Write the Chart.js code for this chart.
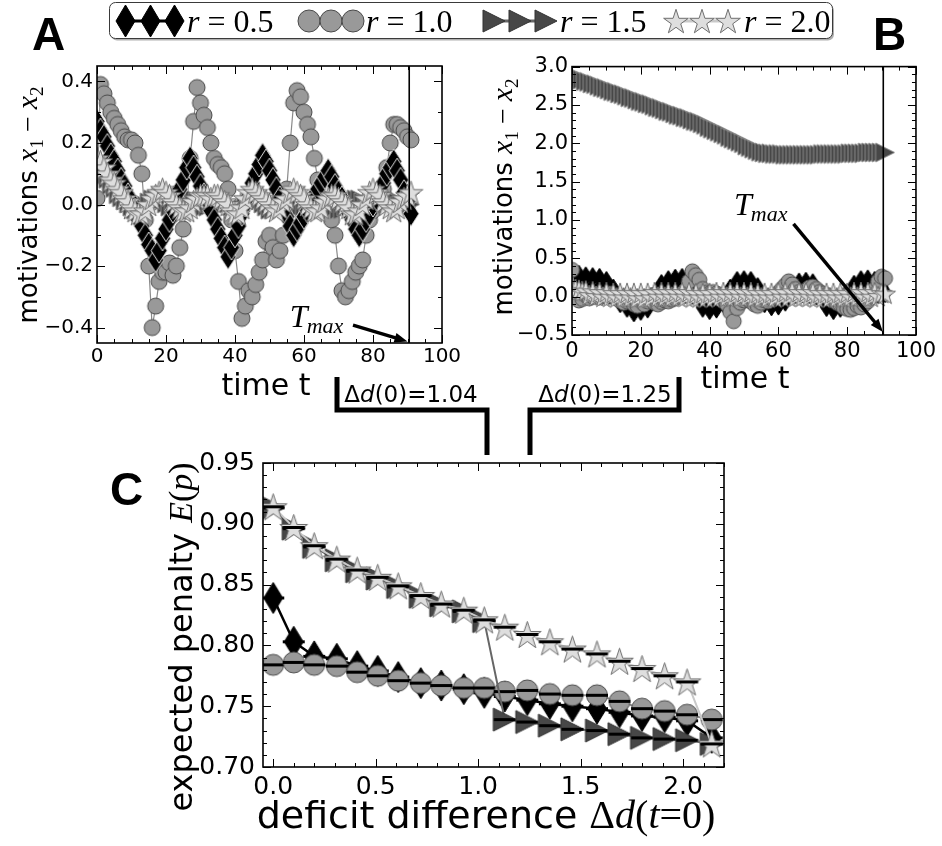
<!DOCTYPE html>
<html>
<head>
<meta charset="utf-8">
<script src="https://cdn.jsdelivr.net/npm/chart.js@4.4.1/dist/chart.umd.min.js"></script>
<style>
  body { margin: 0; background: #fff; width: 942px; height: 846px; position: relative; overflow: hidden; }
  canvas { position: absolute; }
</style>
</head>
<body>
<canvas id="chartA" width="470" height="360" style="left:0px;top:50px"></canvas>
<canvas id="chartB" width="460" height="360" style="left:480px;top:50px"></canvas>
<canvas id="chartC" width="600" height="406" style="left:150px;top:440px"></canvas>
<canvas id="deco" width="942" height="846" style="left:0;top:0;pointer-events:none"></canvas>
<script>
// ---- data ----
const rValues = ["0.5", "1.0", "1.5", "2.0"];

const timeSteps = [0,1,2,3,4,5,6,7,8,9,10,11,12,13,14,15,16,17,18,19,20,21,22,23,24,25,26,27,28,29,
  30,31,32,33,34,35,36,37,38,39,40,41,42,43,44,45,46,47,48,49,50,51,52,53,54,55,56,57,58,59,
  60,61,62,63,64,65,66,67,68,69,70,71,72,73,74,75,76,77,78,79,80,81,82,83,84,85,86,87,88,89,90,91];

// panel A, delta d(0) = 1.04
const motivA_r05 = [0.27,0.24,0.22,0.19,0.16,0.14,0.11,0.08,0.06,0.03,0.01,-0.02,-0.05,-0.07,-0.10,-0.13,-0.15,-0.18,
  -0.15,-0.11,-0.08,-0.05,-0.02,0.02,0.05,0.08,0.12,0.15,
  0.12,0.09,0.06,0.03,0.01,-0.02,-0.05,-0.08,-0.11,-0.14,-0.17,
  -0.14,-0.10,-0.07,-0.03,0.00,0.03,0.07,0.10,0.13,0.16,
  0.14,0.11,0.08,0.05,0.02,-0.01,-0.04,-0.07,-0.10,
  -0.08,-0.06,-0.04,-0.02,0.01,0.03,0.05,0.07,0.09,0.11,
  0.09,0.06,0.04,0.02,-0.01,-0.03,-0.05,-0.08,-0.10,
  -0.08,-0.05,-0.03,0.00,0.02,0.05,0.07,0.10,0.12,0.14,
  0.11,0.08,0.04,0.01,-0.03];
const motivA_r10 = [0.02,0.39,0.36,0.33,0.30,0.28,0.26,0.24,0.22,0.21,
  0.21,0.20,0.16,0.10,-0.05,-0.20,-0.40,-0.33,-0.25,-0.22,
  -0.22,-0.19,-0.23,-0.20,-0.14,-0.08,-0.02,0.15,0.27,0.38,
  0.33,0.29,0.25,0.20,0.15,0.13,0.12,0.10,0.05,-0.05,
  -0.15,-0.25,-0.37,-0.33,-0.28,-0.30,-0.26,-0.22,-0.18,-0.12,
  -0.10,-0.14,-0.18,-0.15,-0.10,0.05,0.20,0.33,0.37,0.35,
  0.30,0.26,0.22,0.15,0.08,0.02,-0.02,-0.03,-0.05,-0.10,
  -0.20,-0.28,-0.30,-0.28,-0.25,-0.22,-0.20,-0.18,-0.10,-0.05,
  -0.02,0.00,0.03,0.05,0.12,0.20,0.26,0.26,0.25,0.24,
  0.22,0.21];
const motivA_r15 = [0.12,0.11,0.09,0.08,0.06,0.05,0.03,0.02,0.01,0.00,-0.01,-0.02,-0.02,-0.01,0.00,0.01,0.02,0.02,0.02,0.01,
  0.00,-0.01,-0.02,-0.02,-0.01,0.00,0.01,0.02,0.02,0.01,0.00,-0.01,-0.01,0.00,0.01,0.02,0.02,0.01,0.00,-0.01,
  -0.02,-0.02,-0.01,0.00,0.01,0.02,0.02,0.01,0.00,-0.01,-0.02,-0.02,-0.01,0.00,0.01,0.02,0.02,0.01,0.00,-0.01,
  -0.02,-0.02,-0.01,0.00,0.01,0.02,0.02,0.01,0.00,-0.01,-0.02,-0.02,-0.01,0.00,0.01,0.02,0.02,0.01,0.00,-0.01,
  -0.02,-0.02,-0.01,0.00,0.01,0.02,0.02,0.01,0.00,-0.01,-0.01,0.00];
const motivA_r20 = [0.15,0.14,0.12,0.10,0.08,0.07,0.05,0.04,0.02,0.01,-0.01,-0.02,-0.03,-0.03,-0.02,0.00,0.02,0.03,0.04,0.05,
  0.04,0.03,0.01,0.00,-0.01,-0.02,-0.02,-0.01,0.01,0.02,0.03,0.03,0.03,0.02,0.03,0.03,0.02,0.01,0.00,-0.02,
  -0.03,-0.03,-0.01,0.02,0.04,0.05,0.04,0.03,0.02,0.01,0.00,-0.01,-0.02,-0.01,0.01,0.02,0.04,0.05,0.04,0.03,
  0.02,0.00,-0.01,-0.02,-0.02,-0.01,0.01,0.02,0.03,0.03,0.02,0.01,0.00,-0.01,-0.03,-0.03,-0.02,0.00,0.02,0.04,
  0.05,0.04,0.03,0.01,0.00,-0.01,-0.02,-0.01,0.01,0.02,0.03,0.04];

// panel B, delta d(0) = 1.25
const motivB_r05 = [0.27,0.08,0.28,0.07,0.26,0.06,0.25,0.05,0.24,0.04,0.20,0.03,0.10,0.00,-0.08,-0.02,-0.14,-0.03,-0.20,-0.04,
  -0.18,-0.03,-0.15,-0.01,0.02,0.03,0.16,0.04,0.21,0.05,0.23,0.05,0.24,0.04,0.20,0.03,0.05,-0.02,-0.14,-0.03,
  -0.17,-0.03,-0.15,-0.02,-0.08,0.02,0.10,0.04,0.20,0.05,0.21,0.04,0.20,0.03,0.12,0.00,-0.08,-0.02,-0.12,-0.03,
  -0.11,-0.02,-0.06,0.02,0.08,0.04,0.18,0.05,0.19,0.04,0.17,0.02,0.02,-0.02,-0.13,-0.03,-0.17,-0.03,-0.14,-0.01,
  0.03,0.04,0.15,0.05,0.21,0.05,0.22,0.05,0.20,0.04,0.12,0.05];
const motivB_r10 = [0.35,0.05,-0.05,-0.03,0.02,-0.02,0.00,0.03,-0.01,0.01,0.02,0.04,0.00,-0.02,-0.05,-0.08,-0.06,-0.04,-0.10,-0.12,
  -0.05,-0.10,-0.06,-0.04,-0.08,-0.10,-0.07,-0.05,-0.06,-0.04,-0.02,0.00,0.02,0.08,0.20,0.33,0.28,0.22,0.10,0.05,
  0.04,0.06,0.04,0.02,-0.02,-0.10,-0.20,-0.32,-0.15,-0.08,-0.05,-0.03,-0.06,-0.10,-0.12,-0.08,-0.05,-0.06,-0.02,0.00,
  0.05,0.10,0.15,0.20,0.16,0.10,0.06,0.04,0.08,0.12,0.13,0.10,0.06,0.04,0.02,0.00,-0.04,-0.08,-0.10,-0.14,
  -0.16,-0.17,-0.15,-0.12,-0.14,-0.10,-0.06,0.00,0.10,0.20,0.26,0.24];
const motivB_r15 = [2.88,2.86,2.85,2.83,2.81,2.80,2.78,2.77,2.75,2.73,2.72,2.70,2.68,2.67,2.65,2.64,2.62,2.60,2.59,2.57,
  2.55,2.54,2.52,2.51,2.49,2.47,2.46,2.44,2.42,2.41,2.39,2.37,2.36,2.34,2.33,2.31,2.29,2.28,2.26,2.24,
  2.21,2.19,2.17,2.15,2.13,2.11,2.08,2.06,2.04,2.02,2.00,1.97,1.95,1.93,1.91,1.89,1.88,1.87,1.87,1.86,
  1.86,1.86,1.85,1.85,1.85,1.85,1.85,1.85,1.85,1.85,1.85,1.85,1.85,1.86,1.86,1.86,1.86,1.86,1.86,1.86,
  1.86,1.87,1.87,1.87,1.87,1.87,1.88,1.88,1.88,1.88,1.88,1.88];
const motivB_r20 = [0.12,0.10,0.09,0.07,0.08,0.02,0.07,0.01,0.06,0.00,0.06,0.00,0.05,-0.01,0.05,-0.01,0.05,-0.01,0.05,-0.02,
  0.05,-0.02,0.05,-0.01,0.06,0.00,0.06,0.00,0.06,0.00,0.06,0.00,0.06,0.00,0.06,-0.01,0.05,-0.01,0.05,-0.01,
  0.05,-0.01,0.06,0.00,0.06,0.00,0.06,0.00,0.06,0.00,0.06,0.00,0.06,-0.01,0.05,-0.01,0.05,-0.01,0.05,-0.01,
  0.06,0.00,0.06,0.00,0.07,0.00,0.06,0.00,0.06,0.00,0.06,-0.01,0.05,-0.01,0.05,-0.01,0.05,-0.01,0.05,-0.01,
  0.05,0.00,0.06,0.00,0.06,0.00,0.06,0.00,0.06,0.01,0.05,0.04];

// panel C
const deficitDiff = [0.00,0.10,0.20,0.31,0.41,0.51,0.61,0.72,0.82,0.93,1.03,1.13,1.24,1.35,1.46,1.58,1.69,1.80,1.91,2.02,2.14];
const penalty_r05 = [0.839,0.803,0.791,0.789,0.783,0.779,0.774,0.769,0.767,0.764,0.761,0.758,0.755,0.752,0.750,0.748,0.745,0.742,0.741,0.738,0.724];
const penalty_r10 = [0.784,0.786,0.784,0.783,0.778,0.775,0.771,0.769,0.767,0.765,0.765,0.762,0.763,0.760,0.759,0.759,0.754,0.748,0.746,0.743,0.739];
const penalty_r15 = [0.913,0.896,0.881,0.870,0.861,0.855,0.848,0.840,0.833,0.828,0.820,0.739,0.737,0.734,0.731,0.730,0.727,0.724,0.723,0.722,0.719];
const penalty_r20 = [0.914,0.897,0.882,0.871,0.862,0.856,0.849,0.841,0.834,0.829,0.821,0.815,0.809,0.803,0.797,0.793,0.787,0.781,0.775,0.770,0.719];

const ticksA_x = [0, 20, 40, 60, 80, 100];
const ticksA_y = [-0.4, -0.2, 0.0, 0.2, 0.4];
const ticksB_y = [-0.5, 0.0, 0.5, 1.0, 1.5, 2.0, 2.5, 3.0];
const ticksC_x = [0.0, 0.5, 1.0, 1.5, 2.0];
const ticksC_y = [0.70, 0.75, 0.80, 0.85, 0.90, 0.95];
const tMax = 90.5;
const bracketValues = [1.04, 1.25];

// ---- markers ----
function marker(shape, o) {
  const w = o.w, h = o.h || o.w, lw = o.lw || 1;
  const c = document.createElement("canvas");
  c.width = Math.ceil(Math.max(w, o.bar || 0) + 2 * lw + 4);
  c.height = Math.ceil(h + 2 * lw + 4);
  const g = c.getContext("2d");
  const cx = c.width / 2, cy = c.height / 2;
  g.beginPath();
  if (shape === "circle") g.arc(cx, cy, w / 2, 0, Math.PI * 2);
  else if (shape === "diamond") {
    g.moveTo(cx, cy - h / 2); g.lineTo(cx + w / 2, cy); g.lineTo(cx, cy + h / 2); g.lineTo(cx - w / 2, cy); g.closePath();
  } else if (shape === "tri") {
    g.moveTo(cx + w / 2, cy); g.lineTo(cx - w / 2, cy - h / 2); g.lineTo(cx - w / 2, cy + h / 2); g.closePath();
  } else if (shape === "star") {
    for (let k = 0; k < 10; k++) {
      const r = k % 2 ? w / 2 * 0.382 : w / 2;
      const a = -Math.PI / 2 + k * Math.PI / 5;
      g.lineTo(cx + r * Math.cos(a), cy + r * Math.sin(a) + w * 0.05);
    }
    g.closePath();
  }
  g.fillStyle = o.fill; g.fill();
  g.lineWidth = lw; g.strokeStyle = o.edge; g.lineJoin = "miter"; g.stroke();
  if (o.bar) { g.fillStyle = "#000"; g.fillRect(cx - o.bar / 2, cy - 1.5, o.bar, 3); }
  return c;
}

const FILL = { d: "#000", c: "#999", t: "#474747", s: "#dedede" };
const EDGE = { d: "#000", c: "#4a4a4a", t: "#333", s: "#6e6e6e" };
const LINE = { d: "#000", c: "#8a8a8a", t: "#666", s: "#c9c9c9" };

const mkA = {
  d: marker("diamond", { w: 16, h: 25, fill: FILL.d, edge: "#e0e0e0", lw: 1 }),
  c: marker("circle", { w: 16, fill: FILL.c, edge: EDGE.c }),
  t: marker("tri", { w: 17, fill: FILL.t, edge: "#8a8a8a" }),
  s: marker("star", { w: 25, fill: FILL.s, edge: EDGE.s })
};
const mkB = {
  d: marker("diamond", { w: 13, h: 20, fill: FILL.d, edge: "#000", lw: 1 }),
  c: marker("circle", { w: 15, fill: FILL.c, edge: EDGE.c }),
  t: marker("tri", { w: 19, fill: FILL.t, edge: "#8c8c8c" }),
  s: marker("star", { w: 22, fill: FILL.s, edge: EDGE.s })
};
const mkC = {
  d: marker("diamond", { w: 19, h: 31, fill: FILL.d, edge: EDGE.d, bar: 22 }),
  c: marker("circle", { w: 21, fill: FILL.c, edge: EDGE.c, bar: 22 }),
  t: marker("tri", { w: 23, fill: FILL.t, edge: EDGE.t, bar: 22 }),
  s: marker("star", { w: 29, fill: FILL.s, edge: EDGE.s, bar: 22 })
};

function series(xs, ys, img, color, lw, order) {
  return {
    data: xs.map((x, i) => ({ x: x, y: ys[i] })),
    pointStyle: img, pointRadius: 6, pointHoverRadius: 6,
    showLine: true, borderColor: color, borderWidth: lw, order: order
  };
}

const minus = v => (v < 0 ? "\u2212" : "") + Math.abs(v);
function fmt(d) { return v => (v < 0 ? "\u2212" : "") + Math.abs(v).toFixed(d); }

function axis(min, max, ticks, cb, size, pad, w, h) {
  return {
    type: "linear", min: min, max: max,
    grid: { display: false, drawTicks: false }, border: { display: false },
    ticks: { font: { size: size, family: "DejaVu Sans" }, color: "#000", padding: pad, callback: cb, autoSkip: false, maxRotation: 0 },
    afterBuildTicks: s => { s.ticks = ticks.map(v => ({ value: v })); },
    afterFit: s => { if (w != null) s.width = w; if (h != null) s.height = h; }
  };
}

// frame with inward ticks on all four sides, T_max line and arrow
const framePlugin = {
  id: "frame",
  afterDatasetsDraw(chart, args, o) {
    const { ctx, chartArea: a, scales: { x, y } } = chart;
    ctx.save();
    ctx.strokeStyle = "#000";
    if (o.tmax != null) {
      const px = x.getPixelForValue(o.tmax);
      ctx.lineWidth = 1.6;
      ctx.beginPath(); ctx.moveTo(px, a.top); ctx.lineTo(px, a.bottom); ctx.stroke();
    }
    ctx.lineWidth = 1;
    const tk = (vals, len, horiz) => {
      vals.forEach(v => {
        ctx.beginPath();
        if (horiz) {
          const p = Math.round(x.getPixelForValue(v)) + 0.5;
          ctx.moveTo(p, a.bottom); ctx.lineTo(p, a.bottom - len);
          ctx.moveTo(p, a.top); ctx.lineTo(p, a.top + len);
        } else {
          const p = Math.round(y.getPixelForValue(v)) + 0.5;
          ctx.moveTo(a.left, p); ctx.lineTo(a.left + len, p);
          ctx.moveTo(a.right, p); ctx.lineTo(a.right - len, p);
        }
        ctx.stroke();
      });
    };
    const steps = (lo, hi, st) => { const r = []; for (let k = Math.ceil(lo / st - 1e-6); k * st <= hi + 1e-9; k++) r.push(k * st); return r; };
    tk(steps(x.min, x.max, o.minX), 4, true);
    tk(steps(y.min, y.max, o.minY), 4, false);
    tk(o.majX, 8, true);
    tk(o.majY, 8, false);
    ctx.lineWidth = 1.6;
    ctx.strokeRect(a.left, a.top, a.right - a.left, a.bottom - a.top);
    if (o.label) {
      const L = o.label;
      ctx.fillStyle = "#000";
      const tx = x.getPixelForValue(L.tx), ty = y.getPixelForValue(L.ty);
      ctx.font = 'italic 32px "Liberation Serif"';
      ctx.textBaseline = "alphabetic";
      ctx.fillText("T", tx, ty);
      const tw = ctx.measureText("T").width;
      ctx.font = 'italic 22px "Liberation Serif"';
      ctx.fillText("max", tx + tw - 1, ty + 6);
      const x0 = x.getPixelForValue(L.ax0), y0 = y.getPixelForValue(L.ay0);
      const x1 = x.getPixelForValue(L.ax1), y1 = y.getPixelForValue(L.ay1);
      const ang = Math.atan2(y1 - y0, x1 - x0);
      ctx.lineWidth = 3.5;
      ctx.beginPath(); ctx.moveTo(x0, y0);
      ctx.lineTo(x1 - 9 * Math.cos(ang), y1 - 9 * Math.sin(ang)); ctx.stroke();
      ctx.beginPath();
      ctx.moveTo(x1, y1);
      ctx.lineTo(x1 - 13 * Math.cos(ang) + 5 * Math.sin(ang), y1 - 13 * Math.sin(ang) - 5 * Math.cos(ang));
      ctx.lineTo(x1 - 13 * Math.cos(ang) - 5 * Math.sin(ang), y1 - 13 * Math.sin(ang) + 5 * Math.cos(ang));
      ctx.closePath(); ctx.fill();
    }
    ctx.restore();
  }
};

function makeChart(id, datasets, scales, padding, frame) {
  return new Chart(document.getElementById(id), {
    type: "scatter",
    data: { datasets: datasets },
    options: {
      responsive: false, animation: false, events: [],
      layout: { padding: padding },
      scales: scales,
      plugins: { legend: { display: false }, tooltip: { enabled: false }, frame: frame }
    },
    plugins: [framePlugin]
  });
}

makeChart("chartA", [
  series(timeSteps, motivA_r20, mkA.s, LINE.s, 1.2, 0),
  series(timeSteps, motivA_r05, mkA.d, LINE.d, 1.2, 1),
  series(timeSteps, motivA_r15, mkA.t, LINE.t, 1.2, 2),
  series(timeSteps, motivA_r10, mkA.c, LINE.c, 1.2, 3)
], {
  x: axis(0, 100, ticksA_x, v => minus(v), 20, 2, null, 67),
  y: axis(-0.45, 0.45, ticksA_y, fmt(1), 20, 4, 97, null)
}, { top: 14, right: 28, left: 0, bottom: 0 }, {
  tmax: tMax, minX: 5, minY: 0.1, majX: ticksA_x, majY: ticksA_y,
  label: { tx: 55.9, ty: -0.399, ax0: 74.2, ay0: -0.392, ax1: 90.0, ay1: -0.445 }
});

makeChart("chartB", [
  series(timeSteps, motivB_r20, mkB.s, LINE.s, 1.2, 0),
  series(timeSteps, motivB_r15, mkB.t, LINE.t, 1.2, 1),
  series(timeSteps, motivB_r10, mkB.c, LINE.c, 1.2, 2),
  series(timeSteps, motivB_r05, mkB.d, LINE.d, 1.2, 3)
], {
  x: axis(0, 100, ticksA_x, v => minus(v), 21, 4, null, 75),
  y: axis(-0.5, 3.0, ticksB_y, fmt(1), 21, 4, 92, null)
}, { top: 15, right: 22, left: 0, bottom: 0 }, {
  tmax: tMax, minX: 5, minY: 0.1, majX: ticksA_x, majY: ticksB_y,
  label: { tx: 47.1, ty: 1.065, ax0: 64.4, ay0: 0.948, ax1: 90.4, ay1: -0.46 }
});

makeChart("chartC", [
  series(deficitDiff, penalty_r20, mkC.s, LINE.s, 2, 0),
  series(deficitDiff, penalty_r15, mkC.t, LINE.t, 2, 1),
  series(deficitDiff, penalty_r10, mkC.c, LINE.c, 2, 2),
  series(deficitDiff, penalty_r05, mkC.d, LINE.d, 2.5, 3)
], {
  x: axis(-0.05, 2.2, ticksC_x, fmt(1), 25, 5, null, 79),
  y: axis(0.70, 0.95, ticksC_y, fmt(2), 25, 8, 113, null)
}, { top: 15, right: 26, left: 0, bottom: 0 }, {
  minX: 0.1, minY: 0.01, majX: ticksC_x, majY: ticksC_y
});

// ---- decorations: legend, panel letters, axis titles, brackets ----
const g = document.getElementById("deco").getContext("2d");
function rich(parts, x, y, angle, align) {
  g.save(); g.translate(x, y); if (angle) g.rotate(angle);
  g.fillStyle = "#000"; g.textBaseline = "alphabetic";
  let total = 0;
  parts.forEach(p => { g.font = p.f; p.w = g.measureText(p.t).width + (p.k || 0); total += p.w; });
  let cx = align === "center" ? -total / 2 : 0;
  parts.forEach(p => { g.font = p.f; g.fillText(p.t, cx, p.dy || 0); cx += p.w; });
  g.restore();
}
const SANS = '"DejaVu Sans"', SERIF = '"Liberation Serif"';

// panel letters
g.fillStyle = "#000";
g.font = 'bold 46px "Liberation Sans"';
g.fillText("A", 32, 50);
g.fillText("B", 873, 50);
g.fillText("C", 110, 505);

// legend
g.save();
g.fillStyle = "#b0b0b0";
g.beginPath(); g.roundRect(111, 4.5, 723, 36, 6); g.fill();
g.fillStyle = "#fff"; g.strokeStyle = "#3a3a3a"; g.lineWidth = 1;
g.beginPath(); g.roundRect(109.5, 2.5, 723, 36, 6); g.fill(); g.stroke();
g.restore();
const legendMk = [
  marker("diamond", { w: 19, h: 32, fill: FILL.d, edge: EDGE.d }),
  marker("circle", { w: 22, fill: FILL.c, edge: EDGE.c }),
  marker("tri", { w: 22, fill: FILL.t, edge: EDGE.t }),
  marker("star", { w: 26, fill: FILL.s, edge: EDGE.s })
];
const legendLine = [LINE.d, LINE.c, LINE.t, LINE.s];
const legendX = [[125, 150, 174], [309, 331, 353], [494, 520, 546], [676, 702, 728]];
const legendTextX = [187, 366, 560, 744];
legendX.forEach((xs, i) => {
  g.strokeStyle = legendLine[i]; g.lineWidth = 3;
  g.beginPath(); g.moveTo(xs[0], 21); g.lineTo(xs[2], 21); g.stroke();
  xs.forEach(x => g.drawImage(legendMk[i], Math.round(x - legendMk[i].width / 2), Math.round(21 - legendMk[i].height / 2)));
  rich([{ t: "r", f: "italic 32px " + SERIF }, { t: " = ", f: "32px " + SERIF }, { t: rValues[i], f: "32px " + SERIF }],
    legendTextX[i], 32, 0, "left");
});

// axis titles
const yTitle = size => [
  { t: "motivations ", f: size + "px " + SANS },
  { t: "x", f: "italic " + (size + 4) + "px " + SERIF },
  { t: "1", f: Math.round(size * 0.72) + "px " + SERIF, dy: 6 },
  { t: " \u2212 ", f: (size + 2) + "px " + SERIF },
  { t: "x", f: "italic " + (size + 4) + "px " + SERIF },
  { t: "2", f: Math.round(size * 0.72) + "px " + SERIF, dy: 6 }
];
rich(yTitle(26), 37, 205, -Math.PI / 2, "center");
rich(yTitle(26), 512, 197, -Math.PI / 2, "center");
rich([{ t: "time t", f: "30px " + SANS }], 266, 395, 0, "center");
rich([{ t: "time t", f: "30px " + SANS }], 745, 388, 0, "center");
rich([
  { t: "expected penalty ", f: "32px " + SANS },
  { t: "E", f: "italic 34px " + SERIF },
  { t: "(", f: "34px " + SERIF },
  { t: "p", f: "italic 34px " + SERIF },
  { t: ")", f: "34px " + SERIF }
], 192, 637, -Math.PI / 2, "center");
rich([
  { t: "deficit difference ", f: "38px " + SANS },
  { t: "\u0394", f: "40px " + SERIF },
  { t: "d", f: "italic 40px " + SERIF },
  { t: "(", f: "40px " + SERIF },
  { t: "t", f: "italic 40px " + SERIF },
  { t: "=", f: "40px " + SERIF },
  { t: "0", f: "40px " + SERIF },
  { t: ")", f: "40px " + SERIF }
], 486, 828, 0, "center");

// brackets pointing at delta d(0) values in panel C
g.strokeStyle = "#000"; g.lineWidth = 5; g.lineJoin = "miter"; g.lineCap = "butt";
g.beginPath(); g.moveTo(337, 377); g.lineTo(337, 410); g.lineTo(487, 410); g.lineTo(487, 455); g.stroke();
g.beginPath(); g.moveTo(679, 377); g.lineTo(679, 410); g.lineTo(530, 410); g.lineTo(530, 455); g.stroke();
bracketValues.forEach((v, i) => {
  rich([
    { t: "\u0394", f: "23px " + SANS },
    { t: "d", f: "italic 23px " + SANS },
    { t: "(0)=" + v.toFixed(2), f: "23px " + SANS }
  ], [411, 605][i], 402, 0, "center");
});
</script>
</body>
</html>
